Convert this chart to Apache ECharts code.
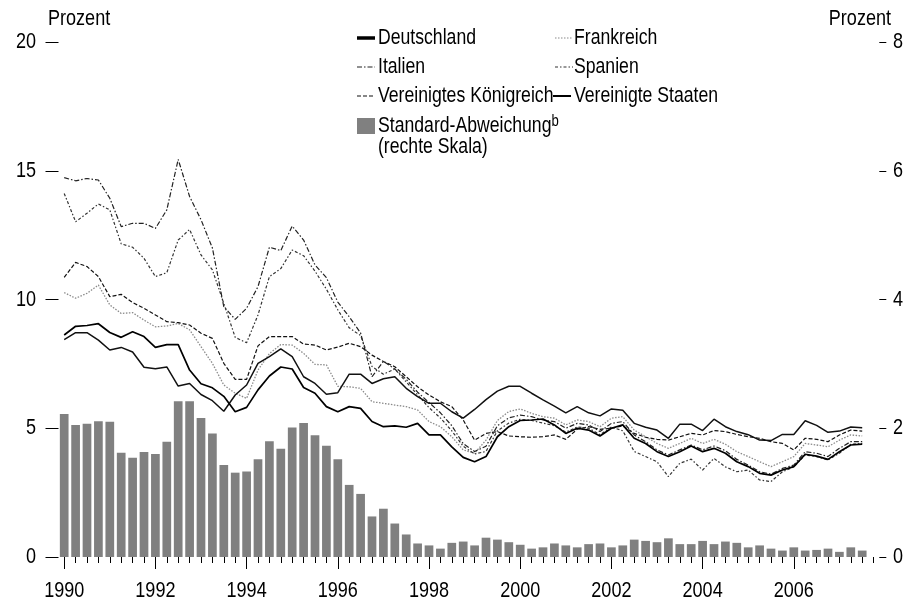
<!DOCTYPE html>
<html>
<head>
<meta charset="utf-8">
<script src="https://cdn.jsdelivr.net/npm/echarts@6/dist/echarts.min.js"></script>
<style>
html,body{margin:0;padding:0;background:#fff;}
#chart{width:916px;height:602px;}
</style>
</head>
<body>
<div id="chart"></div>
<script>
// Quarterly categories 1990Q1 .. 2007Q4
const years = [1990,1991,1992,1993,1994,1995,1996,1997,1998,1999,2000,2001,2002,2003,2004,2005,2006,2007];
const quarters = ['Q1','Q2','Q3','Q4'];
const categories = [];
years.forEach(y => quarters.forEach(q => categories.push(y + q)));

const tickYears = ['1990','1992','1994','1996','1998','2000','2002','2004','2006'];
const leftTicks = [0, 5, 10, 15, 20];
const rightTicks = [0, 2, 4, 6, 8];

// Standard-Abweichung (rechte Skala), 1990Q1 .. 2007Q3
const stdDev = [2.22,2.05,2.07,2.11,2.10,1.62,1.54,1.63,1.60,1.79,2.42,2.42,2.16,1.92,1.43,1.31,
  1.33,1.52,1.80,1.68,2.01,2.08,1.89,1.73,1.52,1.12,0.98,0.63,0.75,0.52,0.35,0.21,
  0.18,0.13,0.22,0.24,0.18,0.30,0.27,0.23,0.19,0.13,0.15,0.21,0.18,0.15,0.20,0.21,
  0.15,0.18,0.27,0.25,0.23,0.29,0.20,0.20,0.25,0.20,0.24,0.22,0.15,0.18,0.13,0.10,
  0.15,0.10,0.11,0.13,0.08,0.15,0.10,null];

const deutschland = [8.62,8.96,8.99,9.06,8.72,8.53,8.75,8.56,8.14,8.25,8.25,7.26,6.73,6.57,6.24,5.64,
  5.81,6.49,7.03,7.38,7.30,6.58,6.36,5.84,5.64,5.84,5.77,5.26,5.06,5.09,5.04,5.19,
  4.74,4.74,4.28,3.87,3.70,3.90,4.67,5.06,5.30,5.32,5.36,5.13,4.80,5.00,4.93,4.70,
  5.00,5.13,4.61,4.41,4.09,3.90,4.09,4.31,4.09,4.22,4.03,3.70,3.51,3.25,3.18,3.38,
  3.51,3.99,3.92,3.79,4.09,4.35,4.38,null];

const frankreich = [10.27,10.05,10.24,10.56,9.79,9.46,9.49,9.20,8.94,8.97,9.07,8.82,8.17,7.52,6.68,6.36,
  6.16,7.26,7.90,8.25,8.23,7.91,7.48,7.46,6.63,6.61,6.55,6.03,5.97,5.90,5.84,5.71,
  5.26,5.06,4.67,4.16,4.03,4.54,5.30,5.65,5.75,5.58,5.45,5.39,5.13,5.32,5.26,5.06,
  5.39,5.45,4.93,4.67,4.41,4.22,4.41,4.61,4.41,4.57,4.38,4.09,3.90,3.70,3.51,3.70,
  3.90,4.41,4.35,4.28,4.54,4.74,4.70,null];

const italien = [14.73,14.61,14.70,14.64,13.93,12.83,12.96,12.96,12.76,13.48,15.44,14.00,13.10,12.00,9.72,9.23,
  9.66,10.50,12.03,11.90,12.85,12.31,11.34,10.85,9.90,9.33,8.70,7.00,7.60,7.30,6.90,6.40,
  6.00,5.60,5.10,4.40,4.10,4.30,5.10,5.40,5.51,5.45,5.32,5.26,5.00,5.19,5.13,4.87,
  5.19,5.26,4.74,4.48,4.16,3.96,4.16,4.35,4.16,4.31,4.13,3.79,3.57,3.31,3.22,3.44,
  3.57,4.09,4.03,3.90,4.22,4.48,4.48,null];

const spanien = [14.12,13.02,13.35,13.71,13.48,12.16,12.03,11.60,10.89,11.04,12.31,12.72,11.73,11.15,9.85,8.53,
  8.32,9.40,10.89,11.20,11.92,11.70,11.10,10.40,9.60,8.90,8.60,7.40,7.10,7.30,6.80,6.30,
  5.80,5.40,4.90,4.30,4.00,4.10,4.90,5.20,5.35,5.30,5.20,5.10,4.85,5.05,5.00,4.75,
  5.05,4.90,4.10,3.90,3.70,3.12,3.64,3.80,3.38,3.83,3.50,3.31,3.38,2.99,2.93,3.31,
  3.50,3.96,3.90,3.77,4.03,4.38,4.41,null];

const vereinigtesKoenigreich = [10.86,11.44,11.28,10.89,10.11,10.20,9.88,9.66,9.40,9.14,9.10,9.01,8.69,8.49,7.52,6.90,
  6.90,8.20,8.56,8.56,8.56,8.27,8.23,8.04,8.15,8.30,8.17,7.84,7.59,7.39,7.00,6.61,
  6.29,6.03,5.84,5.32,4.54,4.80,4.87,4.70,4.67,4.65,4.67,4.74,4.57,4.96,5.06,4.96,
  5.00,5.09,4.80,4.65,4.57,4.54,4.67,4.80,4.74,4.91,4.87,4.76,4.67,4.61,4.48,4.41,
  4.16,4.61,4.57,4.48,4.74,4.93,4.89,null];

const vereinigteStaaten = [8.44,8.71,8.71,8.42,8.04,8.14,7.96,7.37,7.31,7.38,6.64,6.74,6.31,6.07,5.66,6.29,
  6.68,7.52,7.78,8.08,7.78,7.00,6.74,6.32,6.38,7.10,7.10,6.74,6.92,7.00,6.55,6.23,
  5.97,5.97,5.64,5.39,5.73,6.11,6.44,6.63,6.63,6.36,6.10,5.86,5.60,5.84,5.60,5.48,
  5.75,5.70,5.19,5.04,4.93,4.61,5.16,5.16,4.91,5.35,5.06,4.87,4.75,4.54,4.52,4.76,
  4.76,5.29,5.11,4.84,4.89,5.05,5.02,null];

const FONT = "'Liberation Sans', Arial, sans-serif";
const NARROW = 0.82;

const chart = echarts.init(document.getElementById('chart'), null, {renderer: 'canvas'});

function lineSeries(name, data, color, width, dash) {
  return {
    name, type: 'line', data, yAxisIndex: 0, xAxisIndex: 0,
    symbol: 'none', showSymbol: false, smooth: false, z: 3,
    lineStyle: {color, width, type: dash},
    emphasis: {disabled: true}
  };
}

const legendRows = [38, 67, 96, 126, 147];
const col1Icon = 357, col1Text = 378, col2Icon = 555, col2Text = 574;
const legendFont = '21.5px ' + FONT;
const axisFont = '22px ' + FONT;

function legLine(x, y, color, width, dash) {
  return {type: 'line', shape: {x1: x, y1: y, x2: x + 18, y2: y},
    style: {stroke: color, lineWidth: width, lineDash: dash}};
}
function narrowText(x, y, text, font, align) {
  return {type: 'text', x: x, y: y, scaleX: NARROW,
    style: {text, font: font, fill: '#000', verticalAlign: 'middle', align: align || 'left'}};
}

const option = {
  backgroundColor: '#fff',
  animation: false,
  grid: {left: 58.5, right: 36.7, top: 42, bottom: 45, containLabel: false},
  xAxis: [
    {
      type: 'category', data: categories, boundaryGap: true, position: 'bottom',
      axisLine: {show: false},
      axisTick: {show: true, alignWithLabel: true, interval: 0, length: 6, lineStyle: {color: '#000', width: 1}},
      axisLabel: {show: false},
      splitLine: {show: false}
    },
    {
      type: 'category', data: categories, boundaryGap: true, position: 'bottom',
      axisLine: {show: false},
      axisTick: {show: true, alignWithLabel: true, interval: (i) => i % 8 === 0, length: 12, lineStyle: {color: '#000', width: 1}},
      axisLabel: {show: false},
      splitLine: {show: false}
    }
  ],
  yAxis: [
    {
      type: 'value', min: 0, max: 20, interval: 5, position: 'left',
      axisLine: {show: false},
      axisTick: {show: true, length: 13, lineStyle: {color: '#000', width: 1}},
      axisLabel: {show: false},
      splitLine: {show: false}
    },
    {
      type: 'value', min: 0, max: 8, interval: 2, position: 'right',
      axisLine: {show: false},
      axisTick: {show: true, length: 7, lineStyle: {color: '#000', width: 1}},
      axisLabel: {show: false},
      splitLine: {show: false}
    }
  ],
  series: [
    {
      name: 'Standard-Abweichung', type: 'bar', data: stdDev, yAxisIndex: 1, xAxisIndex: 0,
      barWidth: 8.7, itemStyle: {color: '#808080'}, z: 1, emphasis: {disabled: true}
    },
    lineSeries('Frankreich', frankreich, '#8a8a8a', 1.3, [1.5, 1.5]),
    lineSeries('Vereinigtes Königreich', vereinigtesKoenigreich, '#111', 1.2, [4, 2]),
    lineSeries('Italien', italien, '#222', 1.2, [5, 2, 1.5, 2]),
    lineSeries('Spanien', spanien, '#333', 1.2, [3, 2, 1.5, 2]),
    lineSeries('Vereinigte Staaten', vereinigteStaaten, '#111', 1.5, 'solid'),
    lineSeries('Deutschland', deutschland, '#000', 1.7, 'solid')
  ]
};

chart.setOption(option);

// Axis labels as narrow text, positioned through the chart's own axis scales
const graphics = [
  narrowText(48, 19, 'Prozent', axisFont),
  narrowText(891, 19, 'Prozent', axisFont, 'right'),
  legLine(col1Icon, legendRows[0], '#000', 3.5, null),
  narrowText(col1Text, legendRows[0], 'Deutschland', legendFont),
  legLine(col2Icon, legendRows[0], '#8a8a8a', 1.2, [1.5, 1.5]),
  narrowText(col2Text, legendRows[0], 'Frankreich', legendFont),
  legLine(col1Icon, legendRows[1], '#222', 1.2, [5, 2, 1.5, 2]),
  narrowText(col1Text, legendRows[1], 'Italien', legendFont),
  legLine(col2Icon, legendRows[1], '#333', 1.2, [3, 2, 1.5, 2]),
  narrowText(col2Text, legendRows[1], 'Spanien', legendFont),
  legLine(col1Icon, legendRows[2], '#111', 1.2, [4, 2]),
  narrowText(col1Text, legendRows[2], 'Vereinigtes Königreich', legendFont),
  legLine(col2Icon - 2, legendRows[2], '#000', 2, null),
  narrowText(col2Text, legendRows[2], 'Vereinigte Staaten', legendFont),
  {type: 'rect', shape: {x: col1Icon, y: legendRows[3] - 8, width: 18, height: 16}, style: {fill: '#808080'}},
  {type: 'text', x: col1Text, y: legendRows[3], scaleX: NARROW, style: {
    text: '{m|Standard-Abweichung}{s|b}', verticalAlign: 'middle',
    rich: {
      m: {font: legendFont, fill: '#000', lineHeight: 24},
      s: {font: '16px ' + FONT, fill: '#000', verticalAlign: 'top', lineHeight: 16}
    }}},
  narrowText(col1Text, legendRows[4], '(rechte Skala)', legendFont)
];

tickYears.forEach(y => {
  const px = chart.convertToPixel({xAxisIndex: 1}, y + 'Q1');
  graphics.push(narrowText(px, 591, y, axisFont, 'center'));
});
leftTicks.forEach(v => {
  const py = chart.convertToPixel({yAxisIndex: 0}, v);
  graphics.push(narrowText(36, py, String(v), axisFont, 'right'));
});
rightTicks.forEach(v => {
  const py = chart.convertToPixel({yAxisIndex: 1}, v);
  graphics.push(narrowText(893, py, String(v), axisFont, 'left'));
});

chart.setOption({graphic: graphics});
</script>
</body>
</html>
